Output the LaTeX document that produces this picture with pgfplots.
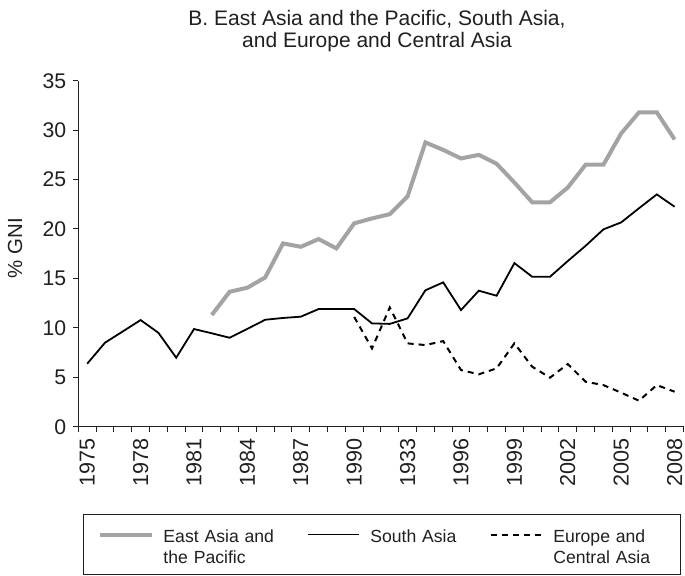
\documentclass[border=0pt]{standalone}
\usepackage{fontspec}
\setmainfont{Liberation Sans}
\usepackage{pgfplots}
\pgfplotsset{compat=1.18}
\definecolor{eagray}{HTML}{A3A3A3}
\definecolor{txt}{HTML}{231F20}
\begin{document}
\begin{tikzpicture}[x=1pt,y=1pt]
\useasboundingbox (-39.15,-74.15) rectangle (303.35,213.35);
\node[align=center,font=\fontsize{10.5}{11.35}\selectfont,text=txt] at (149.35,197.85)
  {B. East Asia and the Pacific, South Asia,\\and Europe and Central Asia};
\begin{axis}[
  at={(0pt,0pt)}, anchor=south west,
  scale only axis, width=302.6pt, height=173pt,
  xmin=1974.5, xmax=2008.5, ymin=0, ymax=35,
  axis x line*=bottom, axis y line*=left,
  axis line style={txt, line width=0.5pt},
  tick style={txt, line width=0.5pt},
  tick align=outside, major tick length=2.5pt,
  /pgf/number format/assume math mode=true,
  ytick={0,5,...,35},
  yticklabel style={font=\fontsize{10.6}{12}\selectfont, text=txt},
  xtick={1974.5,1975.5,...,2008.5},
  xticklabels={},
  extra x ticks={1975,1978,1981,1984,1987,1990,1993,1996,1999,2002,2005,2008},
  extra x tick labels={1975,1978,1981,1984,1987,1990,1933,1996,1999,2002,2005,2008},
  extra x tick style={major tick length=0pt,
     tick label style={rotate=90, anchor=east, inner xsep=5.5pt, font=\fontsize{10.8}{12}\selectfont, text=txt}},
  every axis y label/.style={at={(axis description cs:-0.1046,0.5165)}, rotate=90, anchor=center,
     font=\fontsize{10.2}{11}\selectfont, text=txt},
  ylabel={\% GNI},
  legend columns=3,
  legend style={at={(axis description cs:0.00777,-0.2523)}, anchor=north west,
     draw=txt, line width=0.5pt, inner xsep=7.5pt, inner ysep=3pt,
     font=\fontsize{8.8}{10.5}\selectfont, text=txt,
     nodes={inner sep=0pt},
     /tikz/every odd column/.append style={column sep=5pt},
     },
  legend image code/.code={\draw[#1] (0pt,5pt) -- (25.5pt,5pt); \path (0pt,-5pt);},
]
\addplot[eagray, line width=2pt] coordinates {
(1982,11.3) (1983,13.65) (1984,14.06) (1985,15.1) (1986,18.54) (1987,18.2) (1988,18.98)
(1989,18.04) (1990,20.57) (1991,21.07) (1992,21.5) (1993,23.3) (1994,28.76) (1995,28.0)
(1996,27.14) (1997,27.5) (1998,26.6) (1999,24.7) (2000,22.7) (2001,22.7) (2002,24.2)
(2003,26.5) (2004,26.5) (2005,29.67) (2006,31.8) (2007,31.8) (2008,29.06)};
\addlegendentry[text width=72pt, text height=11pt, text depth=13pt]{East Asia and\\the Pacific}
\addplot[black, line width=0.9pt] coordinates {
(1975,6.37) (1976,8.5) (1977,9.64) (1978,10.79) (1979,9.5) (1980,6.98) (1981,9.88)
(1982,9.45) (1983,9.0) (1984,9.9) (1985,10.82) (1986,11.0) (1987,11.13) (1988,11.9)
(1989,11.9) (1990,11.9) (1991,10.45) (1992,10.4) (1993,10.96) (1994,13.8) (1995,14.6)
(1996,11.8) (1997,13.76) (1998,13.25) (1999,16.55) (2000,15.17) (2001,15.17) (2002,16.76)
(2003,18.3) (2004,19.96) (2005,20.67) (2006,22.1) (2007,23.5) (2008,22.25)};
\addlegendentry[text width=60pt, text height=11pt, text depth=13pt]{South Asia}
\addplot[black, line width=1pt, dash pattern=on 3pt off 2.5pt] coordinates {
(1990,11.1) (1991,7.92) (1992,12.07) (1993,8.43) (1994,8.26) (1995,8.66) (1996,5.73)
(1997,5.3) (1998,5.9) (1999,8.43) (2000,6.07) (2001,4.96) (2002,6.34) (2003,4.55)
(2004,4.21) (2005,3.44) (2006,2.63) (2007,4.21) (2008,3.54)};
\addlegendentry[text width=56pt, text height=11pt, text depth=13pt]{Europe and\\Central Asia}
\end{axis}
\end{tikzpicture}
\end{document}
